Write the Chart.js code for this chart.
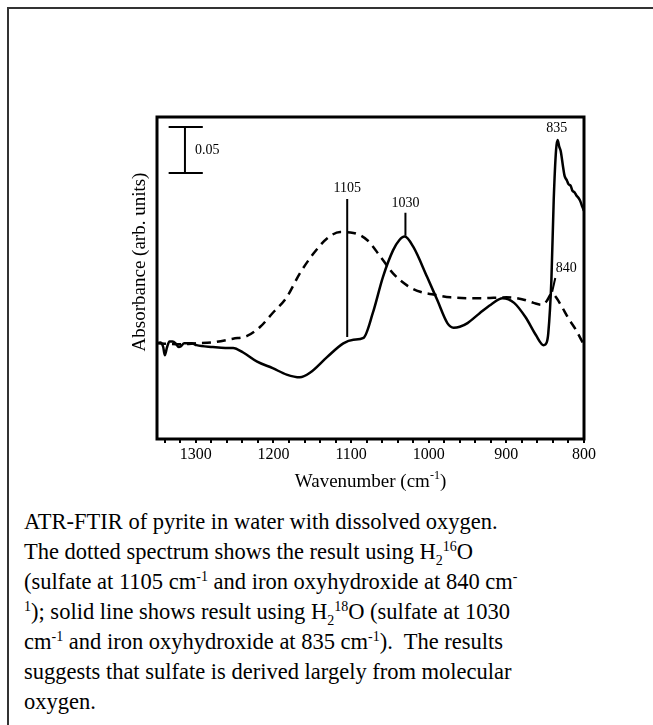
<!DOCTYPE html>
<html lang="en">
<head>
    <meta charset="UTF-8">
    <title>ATR-FTIR of pyrite</title>
    <style>
        body { margin: 0; background: #fff; overflow: hidden; width: 653px; height: 725px; position: relative; }
        #frame { position: absolute; left: 7px; top: 7px; width: 720px; height: 800px; border-left: 2px solid #333; border-top: 2px solid #333; }
        #chart-box { position: absolute; left: 0; top: 0; width: 653px; height: 500px; }
        #caption { position: absolute; left: 24px; top: 507px; font-family: 'Liberation Serif', 'Times New Roman', serif; font-size: 22.5px; line-height: 30px; color: #000; white-space: nowrap; }
        #caption sup, #caption sub { font-size: 14px; line-height: 0; }
    </style>
</head>
<body>
    <div id="frame"></div>
    <div id="chart-box"><canvas id="ftir-chart"></canvas></div>
    <div id="caption">
        ATR-FTIR of pyrite in water with dissolved oxygen.<br>
        The dotted spectrum shows the result using H<sub>2</sub><sup>16</sup>O<br>
        (sulfate at 1105 cm<sup>-1</sup> and iron oxyhydroxide at 840 cm<sup>-</sup><br>
        <sup>1</sup>); solid line shows result using H<sub>2</sub><sup>18</sup>O (sulfate at 1030<br>
        cm<sup>-1</sup> and iron oxyhydroxide at 835 cm<sup>-1</sup>).&nbsp; The results<br>
        suggests that sulfate is derived largely from molecular<br>
        oxygen.
    </div>
    <script src="https://cdn.jsdelivr.net/npm/chart.js@4.4.0/dist/chart.umd.min.js"></script>
    <script>
        // H2 18O spectrum (solid line), absorbance read against the 0.05 scale bar
        const solidWavenumber = [1350, 1346, 1342, 1340, 1337, 1334, 1330, 1326, 1322, 1319, 1315, 1305, 1299, 1278, 1262, 1252, 1239, 1221, 1201, 1183, 1166, 1153, 1131, 1110, 1097, 1084, 1072, 1059, 1046, 1038, 1031, 1020, 1002, 989, 976, 968, 960, 950, 934, 920, 905, 890, 875, 862, 852, 848, 846, 842, 839, 836, 834, 832, 830, 827, 825, 822, 820, 817, 815, 812, 810, 807, 805, 802, 800];
        const solidAbsorbance = [0.104, 0.105, 0.100, 0.091, 0.100, 0.106, 0.106, 0.104, 0.100, 0.101, 0.104, 0.104, 0.102, 0.100, 0.099, 0.099, 0.094, 0.084, 0.077, 0.070, 0.067, 0.072, 0.089, 0.104, 0.108, 0.110, 0.137, 0.176, 0.205, 0.216, 0.220, 0.209, 0.176, 0.151, 0.126, 0.121, 0.122, 0.126, 0.137, 0.146, 0.153, 0.148, 0.132, 0.113, 0.102, 0.105, 0.115, 0.173, 0.260, 0.314, 0.325, 0.318, 0.313, 0.296, 0.286, 0.281, 0.277, 0.275, 0.270, 0.268, 0.265, 0.262, 0.259, 0.252, 0.248];

        // H2 16O spectrum (dashed line)
        const dashedWavenumber = [1350, 1320, 1299, 1278, 1252, 1234, 1217, 1201, 1183, 1166, 1149, 1131, 1114, 1097, 1079, 1062, 1046, 1028, 1011, 994, 972, 933, 900, 880, 865, 855, 848, 843, 840, 836, 830, 820, 810, 800];
        const dashedAbsorbance = [0.104, 0.103, 0.104, 0.105, 0.109, 0.112, 0.122, 0.137, 0.154, 0.180, 0.201, 0.218, 0.225, 0.224, 0.216, 0.198, 0.180, 0.167, 0.160, 0.157, 0.154, 0.153, 0.154, 0.152, 0.148, 0.146, 0.150, 0.157, 0.158, 0.154, 0.146, 0.131, 0.118, 0.102];

        // peak markers: label text, label position, marker line ends
        const peakLabels = ['1105', '1030', '835', '840'];
        const peakLabelX = [1105, 1030, 835, 823];
        const peakLabelY = [0.273, 0.256, 0.338, 0.185];
        const peakLineX1 = [1105, 1030, null, 837];
        const peakLineY1 = [0.261, 0.246, null, 0.175];
        const peakLineX2 = [1105, 1030, null, 841];
        const peakLineY2 = [0.111, 0.221, null, 0.160];

        const majorTicks = [1300, 1200, 1100, 1000, 900, 800];
        const scaleBarValue = 0.05;

        const serif = "'Liberation Serif', 'Times New Roman', serif";

        const pts = (xs, ys) => xs.map((x, i) => ({ x: x, y: ys[i] }));

        const datasets = [
            {
                data: pts(solidWavenumber, solidAbsorbance),
                borderColor: '#000', borderWidth: 2.5, pointRadius: 0,
                cubicInterpolationMode: 'monotone'
            },
            {
                data: pts(dashedWavenumber, dashedAbsorbance),
                borderColor: '#000', borderWidth: 2.5, pointRadius: 0,
                borderDash: [9, 6], cubicInterpolationMode: 'monotone'
            }
        ];
        peakLineX1.forEach((w, i) => {
            if (w === null) return;
            datasets.push({
                data: [{ x: w, y: peakLineY1[i] }, { x: peakLineX2[i], y: peakLineY2[i] }],
                borderColor: '#000', borderWidth: 2, pointRadius: 0
            });
        });
        // 0.05 scale bar, drawn in data units at the upper left
        const barW = 1314, barLow = 0.289;
        datasets.push({ data: [{ x: barW, y: barLow }, { x: barW, y: barLow + scaleBarValue }], borderColor: '#000', borderWidth: 2, pointRadius: 0 });
        datasets.push({ data: [{ x: 1335, y: barLow }, { x: 1291, y: barLow }], borderColor: '#000', borderWidth: 2, pointRadius: 0 });
        datasets.push({ data: [{ x: 1335, y: barLow + scaleBarValue }, { x: 1291, y: barLow + scaleBarValue }], borderColor: '#000', borderWidth: 2, pointRadius: 0 });

        const textPlugin = {
            id: 'textPlugin',
            afterDraw(chart) {
                const { ctx, chartArea: a, scales: { x, y } } = chart;
                ctx.save();
                // frame
                ctx.strokeStyle = '#000';
                ctx.lineWidth = 3;
                ctx.strokeRect(a.left, a.top, a.right - a.left, a.bottom - a.top);

                ctx.fillStyle = '#000';
                ctx.textBaseline = 'middle';
                ctx.textAlign = 'center';
                ctx.font = '14px ' + serif;
                peakLabels.forEach((t, i) => {
                    ctx.fillText(t, x.getPixelForValue(peakLabelX[i]), y.getPixelForValue(peakLabelY[i]));
                });
                ctx.textAlign = 'left';
                ctx.fillText('0.05', x.getPixelForValue(1301), y.getPixelForValue(barLow + scaleBarValue / 2));

                // x title with superscript
                const t1 = 'Wavenumber (cm', t3 = ')';
                ctx.font = '19px ' + serif; const w1 = ctx.measureText(t1).width; const w3 = ctx.measureText(t3).width;
                ctx.font = '12px ' + serif; const w2 = ctx.measureText('-1').width;
                let cx = (a.left + a.right) / 2 - (w1 + w2 + w3) / 2;
                const ty = a.bottom + 43;
                ctx.font = '19px ' + serif; ctx.fillText(t1, cx, ty); cx += w1;
                ctx.font = '12px ' + serif; ctx.fillText('-1', cx, ty - 6); cx += w2;
                ctx.font = '19px ' + serif; ctx.fillText(t3, cx, ty);

                // y title
                ctx.translate(a.left - 17, 262);
                ctx.rotate(-Math.PI / 2);
                ctx.textAlign = 'center';
                ctx.font = '19px ' + serif;
                ctx.fillText('Absorbance (arb. units)', 0, 0);
                ctx.restore();
            }
        };

        new Chart(document.getElementById('ftir-chart'), {
            type: 'line',
            data: { datasets },
            options: {
                responsive: true,
                maintainAspectRatio: false,
                animation: false,
                layout: { padding: { left: 157, top: 117, right: 69, bottom: 21 } },
                plugins: { legend: { display: false }, tooltip: { enabled: false } },
                scales: {
                    x: {
                        type: 'linear', reverse: true, min: 800, max: 1350,
                        afterBuildTicks: (scale) => {
                            const list = [];
                            for (let v = 800; v <= 1340; v += 20) list.push({ value: v });
                            scale.ticks = list;
                        },
                        afterFit: (scale) => { scale.height = 40; },
                        ticks: {
                            autoSkip: false, maxRotation: 0, padding: 2, color: '#000',
                            font: { family: serif, size: 16 },
                            callback: v => majorTicks.includes(v) ? String(v) : ''
                        },
                        grid: { drawOnChartArea: false, drawTicks: true, tickLength: 4, color: '#000', lineWidth: 2 },
                        border: { display: false }
                    },
                    y: { display: false, min: 0, max: 0.35 }
                }
            },
            plugins: [textPlugin]
        });
    </script>
</body>
</html>
